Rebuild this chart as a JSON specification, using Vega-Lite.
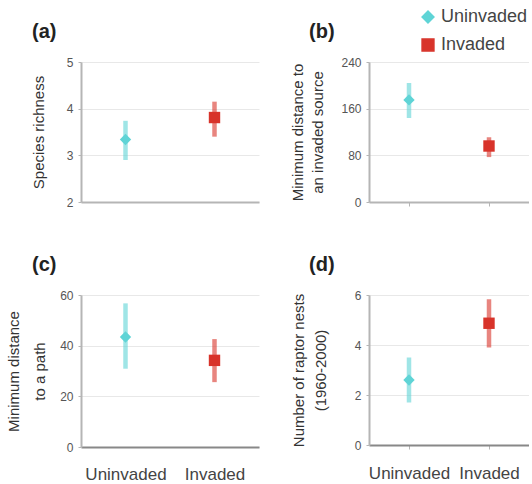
{
  "$schema": "https://vega.github.io/schema/vega-lite/v6.json",
  "padding": {"left": 6, "top": 8, "right": 0, "bottom": 0},
  "background": "white",
  "datasets": {
    "d": [
      {"panel": "a", "group": "Uninvaded", "mean": 3.34, "lo": 2.9, "hi": 3.74},
      {"panel": "a", "group": "Invaded", "mean": 3.81, "lo": 3.4, "hi": 4.15},
      {"panel": "b", "group": "Uninvaded", "mean": 175, "lo": 144, "hi": 204},
      {"panel": "b", "group": "Invaded", "mean": 96, "lo": 77, "hi": 111},
      {"panel": "c", "group": "Uninvaded", "mean": 43.4, "lo": 30.9, "hi": 56.7},
      {"panel": "c", "group": "Invaded", "mean": 34.2, "lo": 25.6, "hi": 42.6},
      {"panel": "d", "group": "Uninvaded", "mean": 2.6, "lo": 1.7, "hi": 3.5},
      {"panel": "d", "group": "Invaded", "mean": 4.87, "lo": 3.9, "hi": 5.83}
    ]
  },
  "data": {"name": "d"},
  "columns": 2,
  "bounds": "flush",
  "spacing": {"column": 110, "row": 93},
  "config": {
    "view": {"stroke": null},
    "font": "Liberation Sans",
    "axis": {"domainColor": "#b5b5b5", "domainWidth": 2, "tickColor": "#b5b5b5", "gridColor": "#e8e8e8", "labelColor": "#555", "labelFontSize": 12, "labelPadding": 5, "titleColor": "#333", "titleFontSize": 15, "titleFontWeight": "normal"},
    "legend": {"orient": "none", "legendX": 338, "legendY": -54, "labelFontSize": 18, "labelColor": "#444", "symbolSize": 140, "symbolOpacity": 1, "rowPadding": 10},
    "title": {"fontSize": 20, "fontWeight": "bold", "anchor": "start", "frame": "group", "color": "#222"}
  },
  "concat": [
    {
      "width": 178, "height": 140,
      "title": {"text": "(a)", "dx": -49, "offset": 14},
      "transform": [{"filter": "datum.panel=='a'"}],
      "encoding": {
        "x": {"field": "group", "type": "nominal", "scale": {"type": "point", "domain": ["Uninvaded", "Invaded"], "padding": 0.5}, "axis": {"title": null, "labels": false, "ticks": false, "grid": false}},
        "color": {"field": "group", "type": "nominal", "scale": {"domain": ["Uninvaded", "Invaded"], "range": ["#5fd4d6", "#d8332a"]}, "legend": {"title": null}}
      },
      "layer": [
        {"mark": {"type": "rule", "strokeWidth": 4.5, "opacity": 0.6}, "encoding": {"y": {"field": "lo", "type": "quantitative", "scale": {"domain": [2, 5]}, "axis": {"title": "Species richness", "values": [2, 3, 4, 5], "tickSize": 3, "titlePadding": 20}}, "y2": {"field": "hi"}}},
        {"mark": {"type": "point", "filled": true, "size": 130, "opacity": 1}, "encoding": {"y": {"field": "mean", "type": "quantitative"}, "shape": {"field": "group", "type": "nominal", "scale": {"domain": ["Uninvaded", "Invaded"], "range": ["diamond", "square"]}, "legend": {"title": null}}}}
      ]
    },
    {
      "width": 160, "height": 140,
      "title": {"text": "(b)", "dx": -60, "offset": 14},
      "transform": [{"filter": "datum.panel=='b'"}],
      "encoding": {
        "x": {"field": "group", "type": "nominal", "scale": {"type": "point", "domain": ["Uninvaded", "Invaded"], "padding": 0.5}, "axis": {"title": null, "labels": false, "ticks": true, "tickSize": 4, "grid": false}},
        "color": {"field": "group", "type": "nominal", "scale": {"domain": ["Uninvaded", "Invaded"], "range": ["#5fd4d6", "#d8332a"]}, "legend": {"title": null}}
      },
      "layer": [
        {"mark": {"type": "rule", "strokeWidth": 4.5, "opacity": 0.6}, "encoding": {"y": {"field": "lo", "type": "quantitative", "scale": {"domain": [0, 240]}, "axis": {"title": ["Minimum distance to", "an invaded source"], "values": [0, 80, 160, 240], "tickSize": 3, "titlePadding": 15, "titleLineHeight": 20}}, "y2": {"field": "hi"}}},
        {"mark": {"type": "point", "filled": true, "size": 130, "opacity": 1}, "encoding": {"y": {"field": "mean", "type": "quantitative"}, "shape": {"field": "group", "type": "nominal", "scale": {"domain": ["Uninvaded", "Invaded"], "range": ["diamond", "square"]}, "legend": {"title": null}}}}
      ]
    },
    {
      "width": 178, "height": 152,
      "title": {"text": "(c)", "dx": -49, "offset": 14},
      "transform": [{"filter": "datum.panel=='c'"}],
      "encoding": {
        "x": {"field": "group", "type": "nominal", "scale": {"type": "point", "domain": ["Uninvaded", "Invaded"], "padding": 0.5}, "axis": {"title": null, "labelAngle": 0, "labelFontSize": 17, "labelColor": "#444", "labelPadding": 19, "ticks": false, "grid": false, "domainColor": "#888"}},
        "color": {"field": "group", "type": "nominal", "scale": {"domain": ["Uninvaded", "Invaded"], "range": ["#5fd4d6", "#d8332a"]}, "legend": {"title": null}}
      },
      "layer": [
        {"mark": {"type": "rule", "strokeWidth": 4.5, "opacity": 0.6}, "encoding": {"y": {"field": "lo", "type": "quantitative", "scale": {"domain": [0, 60]}, "axis": {"title": ["Minimum distance", "to a path"], "values": [0, 20, 40, 60], "tickSize": 3, "titlePadding": 12, "titleLineHeight": 26}}, "y2": {"field": "hi"}}},
        {"mark": {"type": "point", "filled": true, "size": 130, "opacity": 1}, "encoding": {"y": {"field": "mean", "type": "quantitative"}, "shape": {"field": "group", "type": "nominal", "scale": {"domain": ["Uninvaded", "Invaded"], "range": ["diamond", "square"]}, "legend": {"title": null}}}}
      ]
    },
    {
      "width": 160, "height": 150,
      "title": {"text": "(d)", "dx": -60, "offset": 14},
      "transform": [{"filter": "datum.panel=='d'"}],
      "encoding": {
        "x": {"field": "group", "type": "nominal", "scale": {"type": "point", "domain": ["Uninvaded", "Invaded"], "padding": 0.5}, "axis": {"title": null, "labelAngle": 0, "labelFontSize": 17, "labelColor": "#444", "labelPadding": 16, "tickSize": 4, "grid": false, "domainColor": "#888"}},
        "color": {"field": "group", "type": "nominal", "scale": {"domain": ["Uninvaded", "Invaded"], "range": ["#5fd4d6", "#d8332a"]}, "legend": {"title": null}}
      },
      "layer": [
        {"mark": {"type": "rule", "strokeWidth": 4.5, "opacity": 0.6}, "encoding": {"y": {"field": "lo", "type": "quantitative", "scale": {"domain": [0, 6]}, "axis": {"title": ["Number of raptor nests", "(1960-2000)"], "values": [0, 2, 4, 6], "tickSize": 3, "titlePadding": 26, "titleLineHeight": 22}}, "y2": {"field": "hi"}}},
        {"mark": {"type": "point", "filled": true, "size": 130, "opacity": 1}, "encoding": {"y": {"field": "mean", "type": "quantitative"}, "shape": {"field": "group", "type": "nominal", "scale": {"domain": ["Uninvaded", "Invaded"], "range": ["diamond", "square"]}, "legend": {"title": null}}}}
      ]
    }
  ]
}
